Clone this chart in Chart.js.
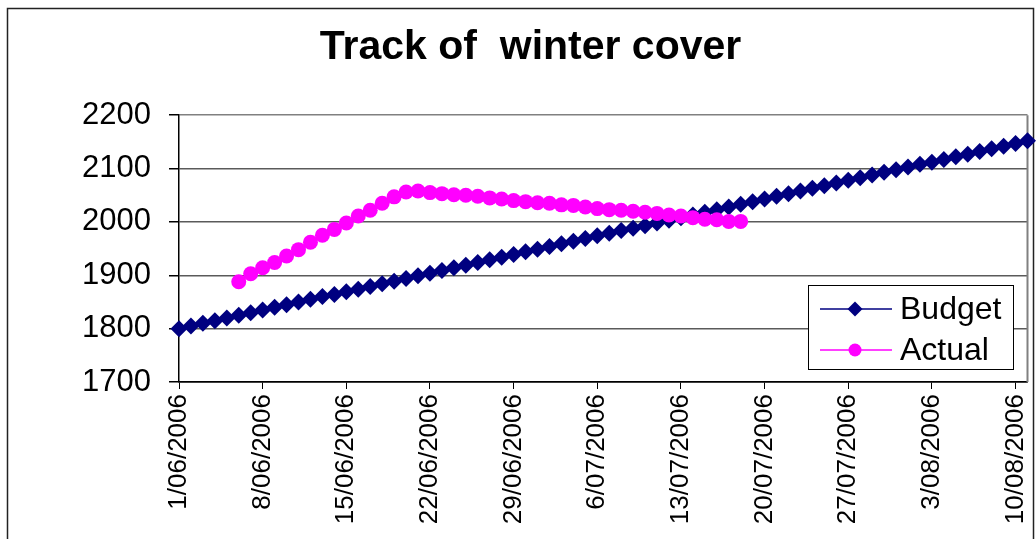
<!DOCTYPE html>
<html>
<head>
<meta charset="utf-8">
<title>Track of winter cover</title>
<script src="https://cdn.jsdelivr.net/npm/chart.js@4.4.1/dist/chart.umd.min.js"></script>
<style>
    html, body { margin: 0; padding: 0; background: #fff; overflow: hidden; }
    #grafico { display: block; }
</style>
</head>
<body>
<canvas id="grafico" width="1036" height="539"></canvas>
<script>
// ==================== DATOS ====================

// Un punto por día, del 1/06/2006 al 11/08/2006
const fechas = [
    '1/06/2006', '2/06/2006', '3/06/2006', '4/06/2006', '5/06/2006', '6/06/2006', '7/06/2006',
    '8/06/2006', '9/06/2006', '10/06/2006', '11/06/2006', '12/06/2006', '13/06/2006', '14/06/2006',
    '15/06/2006', '16/06/2006', '17/06/2006', '18/06/2006', '19/06/2006', '20/06/2006', '21/06/2006',
    '22/06/2006', '23/06/2006', '24/06/2006', '25/06/2006', '26/06/2006', '27/06/2006', '28/06/2006',
    '29/06/2006', '30/06/2006', '1/07/2006', '2/07/2006', '3/07/2006', '4/07/2006', '5/07/2006',
    '6/07/2006', '7/07/2006', '8/07/2006', '9/07/2006', '10/07/2006', '11/07/2006', '12/07/2006',
    '13/07/2006', '14/07/2006', '15/07/2006', '16/07/2006', '17/07/2006', '18/07/2006', '19/07/2006',
    '20/07/2006', '21/07/2006', '22/07/2006', '23/07/2006', '24/07/2006', '25/07/2006', '26/07/2006',
    '27/07/2006', '28/07/2006', '29/07/2006', '30/07/2006', '31/07/2006', '1/08/2006', '2/08/2006',
    '3/08/2006', '4/08/2006', '5/08/2006', '6/08/2006', '7/08/2006', '8/08/2006', '9/08/2006',
    '10/08/2006', '11/08/2006'
];

const presupuesto = [
    1800, 1805, 1810, 1815, 1820, 1825, 1830, 1835, 1840, 1845, 1850, 1855,
    1860, 1864, 1869, 1874, 1879, 1884, 1889, 1894, 1899, 1904, 1909, 1914,
    1919, 1924, 1929, 1934, 1939, 1944, 1949, 1954, 1959, 1964, 1969, 1974,
    1979, 1984, 1988, 1993, 1998, 2003, 2008, 2013, 2018, 2023, 2028, 2033,
    2038, 2043, 2048, 2053, 2058, 2063, 2068, 2073, 2078, 2083, 2088, 2093,
    2098, 2103, 2108, 2112, 2117, 2122, 2127, 2132, 2137, 2142, 2147, 2152
];

const real = [
    null, null, null, null, null, 1888, 1903, 1914, 1924, 1936, 1948, 1962,
    1975, 1986, 1998, 2011, 2022, 2035, 2047, 2056, 2058, 2055, 2053, 2051,
    2050, 2048, 2045, 2043, 2040, 2038, 2036, 2035, 2032, 2031, 2028, 2025,
    2023, 2022, 2020, 2018, 2016, 2013, 2011, 2008, 2005, 2004, 2001, 2001,
    null, null, null, null, null, null, null, null, null, null, null, null,
    null, null, null, null, null, null, null, null, null, null, null, null
];

const ticksY = [1700, 1800, 1900, 2000, 2100, 2200];
const cadaCuantosDias = 7;

const fuente = '"Liberation Sans", Arial, sans-serif';

// ==================== PLUGINS ====================

// Fondo blanco, marco exterior y borde gris del área del gráfico
const marco = {
    id: 'marco',
    beforeDraw(chart) {
        const ctx = chart.ctx;
        ctx.save();
        ctx.fillStyle = '#fff';
        ctx.fillRect(0, 0, chart.width, chart.height);
        ctx.strokeStyle = '#222';
        ctx.lineWidth = 1.5;
        ctx.strokeRect(7.5, 8.5, 1026, 600);
        ctx.restore();
    },
    beforeDatasetsDraw(chart) {
        const a = chart.chartArea;
        const ctx = chart.ctx;
        ctx.save();
        ctx.strokeStyle = '#808080';
        ctx.lineWidth = 2;
        ctx.beginPath();
        ctx.moveTo(a.right, a.top);
        ctx.lineTo(a.right, a.bottom);
        ctx.stroke();
        ctx.restore();
    }
};

// Leyenda con recuadro dentro del área, abajo a la derecha
const leyenda = {
    id: 'leyenda',
    afterDraw(chart) {
        const ctx = chart.ctx;
        const caja = { x: 808, y: 285, w: 205, h: 84 };
        ctx.save();
        ctx.fillStyle = '#fff';
        ctx.fillRect(caja.x, caja.y, caja.w, caja.h);
        ctx.strokeStyle = '#000';
        ctx.lineWidth = 1;
        ctx.strokeRect(caja.x + 0.5, caja.y + 0.5, caja.w, caja.h);

        chart.data.datasets.forEach((ds, i) => {
            const y = caja.y + 24 + i * 41;
            ctx.strokeStyle = ds.borderColor;
            ctx.lineWidth = 1.5;
            ctx.beginPath();
            ctx.moveTo(caja.x + 12, y);
            ctx.lineTo(caja.x + 84, y);
            ctx.stroke();

            const cx = caja.x + 47;
            const r = ds.pointRadius - 1;
            ctx.fillStyle = ds.pointBackgroundColor;
            ctx.beginPath();
            if (ds.pointStyle === 'rectRot') {
                ctx.moveTo(cx, y - r);
                ctx.lineTo(cx + r, y);
                ctx.lineTo(cx, y + r);
                ctx.lineTo(cx - r, y);
                ctx.closePath();
            } else {
                ctx.arc(cx, y, r, 0, Math.PI * 2);
            }
            ctx.fill();

            ctx.fillStyle = '#000';
            ctx.font = '32px ' + fuente;
            ctx.textBaseline = 'middle';
            ctx.fillText(ds.label, caja.x + 92, y + 1);
        });
        ctx.restore();
    }
};

// ==================== GRÁFICO ====================

const ctx = document.getElementById('grafico');

new Chart(ctx, {
    type: 'line',
    data: {
        labels: fechas,
        datasets: [{
            label: 'Budget',
            data: presupuesto,
            borderColor: '#000080',
            backgroundColor: '#000080',
            borderWidth: 1.5,
            pointStyle: 'rectRot',
            pointRadius: 8.5,
            pointBackgroundColor: '#000080',
            pointBorderWidth: 0,
            clip: false,
            order: 2
        }, {
            label: 'Actual',
            data: real,
            borderColor: '#FF00FF',
            backgroundColor: '#FF00FF',
            borderWidth: 1.5,
            pointStyle: 'circle',
            pointRadius: 7.5,
            pointBackgroundColor: '#FF00FF',
            pointBorderWidth: 0,
            spanGaps: false,
            order: 1
        }]
    },
    options: {
        responsive: false,
        animation: false,
        devicePixelRatio: 1,
        // el padding izquierdo corre el título hacia la derecha como en el original
        layout: { padding: { left: 30, right: 5, top: 0, bottom: 0 } },
        plugins: {
            legend: { display: false },
            tooltip: { enabled: false },
            title: {
                display: true,
                text: 'Track of  winter cover',
                color: '#000',
                font: { family: fuente, size: 41, weight: 'bold', lineHeight: 1.2 },
                padding: { top: 23, bottom: 43 }
            }
        },
        scales: {
            x: {
                type: 'category',
                offset: false,
                grid: {
                    drawOnChartArea: false,
                    drawTicks: true,
                    tickLength: 7,
                    tickColor: '#000',
                    color: '#000'
                },
                border: { color: '#000', width: 1.5 },
                ticks: {
                    autoSkip: false,
                    minRotation: 90,
                    maxRotation: 90,
                    padding: 5,
                    color: '#000',
                    font: { family: fuente, size: 26 }
                },
                afterBuildTicks(scale) {
                    scale.ticks = scale.ticks.filter(t => t.value % cadaCuantosDias === 0);
                },
                afterFit(scale) {
                    scale.height = 157;
                    scale.paddingLeft = 0;
                    scale.paddingRight = 0;
                }
            },
            y: {
                min: ticksY[0],
                max: ticksY[ticksY.length - 1],
                grid: {
                    color: c => {
                        if (c.tick.value === ticksY[ticksY.length - 1]) return '#808080';
                        if (c.tick.value === ticksY[0]) return '#000';
                        return '#5a5a5a';
                    },
                    lineWidth: 1.5,
                    tickLength: 10,
                    tickColor: '#000'
                },
                border: { color: '#000', width: 1.5 },
                ticks: {
                    stepSize: ticksY[1] - ticksY[0],
                    padding: 18,
                    color: '#000',
                    font: { family: fuente, size: 31 },
                    callback: v => String(v)
                },
                afterFit(scale) {
                    scale.width = 149;
                    scale.paddingTop = 0;
                    scale.paddingBottom = 0;
                }
            }
        }
    },
    plugins: [marco, leyenda]
});
</script>
</body>
</html>
